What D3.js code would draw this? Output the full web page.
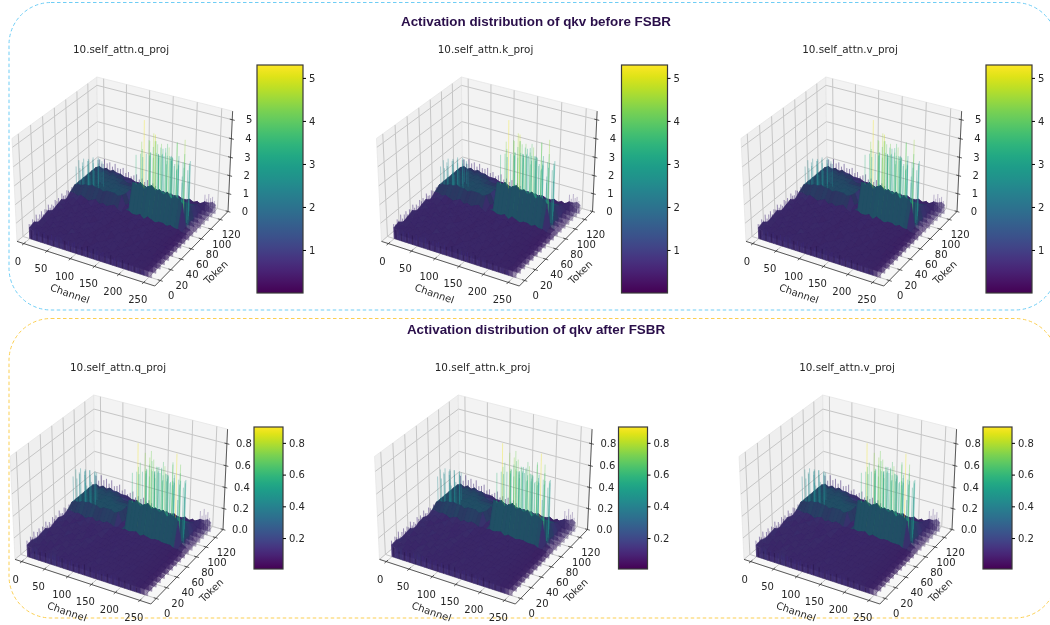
<!DOCTYPE html>
<html>
<head>
<meta charset="utf-8">
<script src="https://cdn.jsdelivr.net/npm/d3@7"></script>
<style>
html, body { margin: 0; background: #fff; }
svg { display: block; filter: blur(0.35px); }
text { font-family: "DejaVu Sans", sans-serif; fill: #262626; }
</style>
</head>
<body>
<script>
//panel names and axis ticks
var panelTitles = ["10.self_attn.q_proj", "10.self_attn.k_proj", "10.self_attn.v_proj"];
var headings = ["Activation distribution of qkv before FSBR", "Activation distribution of qkv after FSBR"];
var axisLabels = ["Channel", "Token"];
var channelTicks = [0, 50, 100, 150, 200, 250];
var tokenTicks = [0, 20, 40, 60, 80, 100, 120];
var zTicksBefore = [0, 1, 2, 3, 4, 5];
var zTicksAfter = [0, 0.2, 0.4, 0.6, 0.8];
var barTicksBefore = [1, 2, 3, 4, 5];
var barTicksAfter = [0.2, 0.4, 0.6, 0.8];

//sampled grid of the surface
var channels = [0,8,16,24,32,40,48,56,64,72,80,88,96,104,112,120,128,136,144,152,160,168,176,184,192,200,208,216,224,232,240,248,255];
var tokens = [0,8,16,24,32,40,48,56,64,72,80,88,96,104,112,120,127];

//opacity of the thin far right columns, token<76 and token>=76
var fadeFront = [1,1,1,1,1,1,1,1,1,1,1,1,1,1,1,1,1,1,1,1,1,1,1,1,1,1,1,1,1,1,0.85,0.5,0.25];
var fadeBack = [1,1,1,1,1,1,1,1,1,1,1,1,1,1,1,1,1,1,1,1,1,1,1,1,1,1,1,1,1,0.7,0.45,0.4,0.3];

//activation before FSBR, one row per token
var surfaceBefore = [
[.6,.5,.7,.5,.6,.4,.6,.5,.7,.5,.4,.6,.5,.6,.4,.5,.6,.5,.7,.4,.5,.6,.4,.5,.6,.4,.5,.4,.5,.4,.4,.3,.2],
[.7,.6,.5,.6,.5,.7,.4,.6,.5,.6,.7,.4,.6,.5,.6,.4,.5,.7,.4,.6,.5,.4,.6,.5,.4,.5,.6,.4,.4,.5,.3,.3,.2],
[.5,.7,.6,.4,.7,.5,.6,.5,.4,.7,.5,.6,.4,.6,.5,.6,.4,.5,.6,.5,.7,.5,.4,.6,.5,.4,.5,.5,.4,.4,.4,.3,.2],
[.6,.5,.6,.7,.5,.6,.5,.7,.6,.4,.6,.5,.7,.5,.4,.5,.7,.4,.5,.6,.4,.6,.5,.4,.6,.5,.4,.5,.5,.3,.4,.3,.2],
[.7,.6,.4,.6,.6,.5,.7,.4,.6,.5,.6,.7,.5,.4,.6,.5,.5,.6,.4,.7,.5,.5,.6,.4,.5,.6,.4,.4,.5,.4,.3,.3,.2],
[.5,.6,.7,.5,.4,.7,.5,.6,.5,.7,.4,.5,.6,.6,.5,.4,.6,.5,.6,.4,.6,.4,.5,.6,.4,.5,.5,.4,.4,.4,.4,.2,.2],
[.6,.7,.5,.6,.7,.4,.6,.5,.7,.5,.6,.4,.5,.7,.4,.6,.4,.6,.5,.5,.4,.6,.5,.5,.6,.4,.5,.5,.4,.3,.3,.3,.2],
[.7,.5,.6,.5,.6,.7,.5,.6,.4,.6,.5,.7,.6,.5,.5,.4,.6,.5,.4,.7,.5,.4,.6,.5,.4,.5,.4,.5,.4,.4,.3,.2,.2],
[.5,.6,.7,.6,.4,.5,.7,.5,.6,.5,.7,.5,.4,.6,.6,.5,.5,.4,.6,.5,.6,.5,.4,.6,.5,.4,.5,.4,.5,.3,.4,.3,.2],
[.7,.7,.6,.7,.6,.5,.6,.7,.5,.6,.5,.6,.7,.5,.4,.6,.6,.5,.5,.6,.4,.6,.5,.4,.5,.5,.4,.5,.4,.4,.3,.3,.2],
[.9,1.0,1.0,1.1,1.1,1.2,1.1,1.1,1.0,1.1,1.1,1.1,1.0,1.1,.6,.5,2.0,1.9,2.1,1.8,2.0,2.1,1.9,2.0,1.8,2.0,1.7,1.9,1.8,1.6,.4,.3,.2],
[.9,1.0,1.0,1.1,1.1,1.0,1.1,1.1,1.1,1.0,1.1,1.1,1.0,1.0,.5,.6,1.7,1.6,1.7,1.5,1.6,1.7,1.5,1.6,1.5,1.6,1.5,1.4,1.5,1.4,.5,.3,.2],
[.9,1.0,1.0,1.0,1.1,1.0,1.0,1.1,1.0,1.1,1.0,1.0,1.0,1.0,.6,.5,1.3,1.4,1.2,1.4,1.3,1.2,1.4,1.2,1.3,1.1,1.3,1.2,1.1,1.1,.4,.4,.2],
[.9,1.0,1.0,1.0,1.0,1.0,1.0,1.0,1.0,.9,.9,.9,.9,.8,.5,.6,1.0,.9,1.1,1.0,.9,1.1,.9,1.0,.9,1.0,.9,.9,.9,.9,.5,.4,.3],
[.9,1.0,.9,1.0,1.0,.9,1.0,.9,.9,.9,.8,.8,.7,.7,.5,.5,.7,.7,.8,.6,.7,.7,.6,.7,.7,.6,.7,.6,.7,.7,.5,.5,.3],
[.9,.9,.8,.9,.8,.9,.8,.9,.7,.7,.7,.6,.6,.6,.4,.4,.5,.5,.6,.5,.5,.5,.6,.4,.5,.5,.5,.4,.5,.6,.6,.5,.4],
[.8,.7,.8,.7,.8,.7,.7,.6,.6,.6,.5,.5,.4,.4,.3,.3,.4,.3,.4,.3,.4,.3,.4,.3,.3,.4,.3,.4,.3,.5,.5,.6,.5]
];

//activation after FSBR, one row per token
var surfaceAfter = [
[.11,.09,.12,.1,.08,.11,.09,.12,.1,.09,.11,.08,.1,.09,.1,.08,.11,.09,.1,.08,.1,.09,.08,.1,.09,.08,.09,.08,.09,.07,.06,.05,.03],
[.12,.1,.09,.11,.1,.08,.12,.09,.11,.1,.08,.11,.09,.1,.08,.1,.09,.11,.08,.1,.09,.1,.08,.09,.1,.08,.08,.09,.07,.08,.06,.05,.03],
[.1,.12,.11,.08,.12,.09,.1,.11,.08,.12,.1,.09,.11,.08,.1,.09,.08,.1,.11,.09,.08,.1,.09,.08,.09,.1,.08,.07,.08,.07,.07,.05,.03],
[.11,.09,.1,.12,.09,.11,.08,.12,.1,.09,.11,.1,.08,.11,.09,.08,.11,.09,.08,.1,.09,.08,.1,.09,.08,.09,.08,.09,.08,.06,.06,.05,.03],
[.12,.11,.08,.1,.11,.09,.12,.08,.1,.11,.09,.12,.1,.09,.08,.1,.09,.1,.09,.11,.08,.09,.1,.08,.09,.08,.09,.08,.07,.07,.06,.04,.03],
[.09,.1,.12,.11,.08,.12,.1,.09,.12,.08,.1,.11,.09,.1,.09,.08,.1,.08,.11,.09,.1,.08,.09,.1,.08,.09,.08,.08,.08,.06,.07,.05,.03],
[.11,.12,.09,.1,.12,.08,.11,.1,.09,.12,.08,.1,.11,.09,.1,.09,.08,.11,.09,.08,.1,.09,.08,.09,.1,.08,.08,.09,.07,.07,.06,.05,.03],
[.12,.09,.11,.09,.1,.12,.09,.11,.1,.08,.11,.09,.12,.1,.08,.1,.11,.09,.08,.1,.09,.1,.09,.08,.09,.08,.09,.07,.08,.06,.06,.04,.03],
[.1,.11,.12,.1,.09,.1,.12,.09,.11,.1,.12,.08,.1,.11,.09,.08,.09,.1,.11,.08,.09,.1,.08,.1,.08,.09,.08,.08,.07,.07,.05,.05,.03],
[.12,.12,.11,.12,.11,.09,.11,.12,.09,.11,.1,.12,.11,.09,.1,.09,.1,.09,.1,.11,.08,.1,.09,.08,.09,.09,.08,.08,.08,.06,.06,.05,.03],
[.16,.18,.18,.2,.2,.21,.2,.2,.18,.2,.2,.2,.18,.2,.11,.1,.34,.32,.36,.31,.34,.36,.32,.34,.31,.34,.29,.32,.31,.28,.08,.06,.04],
[.16,.18,.18,.2,.2,.18,.2,.2,.2,.18,.2,.2,.18,.18,.1,.11,.29,.27,.29,.26,.27,.29,.26,.27,.26,.27,.26,.24,.26,.24,.09,.06,.04],
[.16,.18,.18,.18,.2,.18,.18,.2,.18,.2,.18,.18,.18,.18,.11,.1,.22,.24,.21,.24,.22,.21,.24,.21,.22,.19,.22,.21,.19,.19,.08,.07,.04],
[.16,.18,.18,.18,.18,.18,.18,.18,.18,.16,.16,.16,.16,.14,.1,.11,.17,.16,.19,.17,.16,.19,.16,.17,.16,.17,.16,.16,.16,.16,.09,.07,.05],
[.16,.18,.16,.18,.18,.16,.18,.16,.16,.16,.14,.14,.12,.12,.09,.09,.12,.12,.14,.1,.12,.12,.1,.12,.12,.1,.12,.1,.12,.12,.09,.09,.05],
[.16,.16,.14,.16,.14,.16,.14,.16,.12,.12,.12,.11,.1,.11,.07,.07,.09,.09,.1,.09,.09,.09,.1,.07,.09,.09,.09,.07,.09,.11,.11,.09,.07],
[.14,.12,.14,.12,.14,.12,.12,.11,.11,.11,.09,.09,.07,.07,.05,.05,.07,.05,.07,.05,.07,.05,.07,.05,.05,.07,.05,.07,.05,.09,.09,.11,.09]
];

//tall thin spikes: channel, token, value
var spikesBefore = [
[2,82,1.9],[1,88,2.1],[4,92,1.9],[2,96,2.0],[6,100,1.8],[3,104,1.8],[8,108,1.7],[4,112,1.7],[10,116,1.5],[6,120,1.5],[12,86,1.9],[14,94,1.8],[16,102,1.7],[18,110,1.5],[20,118,1.3],[8,84,1.8],[11,98,1.9],[22,88,1.6],[26,96,1.5],[30,84,1.6],[5,124,1.3],[12,122,1.3],
[130,84,3.4],[134,100,3.1],[138,92,5.1],[142,110,3.6],[146,80,4.3],[150,104,3.8],[154,88,4.2],[158,116,3.2],[162,96,3.9],[166,84,3.5],[170,108,3.7],[174,92,4.1],[178,100,3.3],[182,80,3.8],[186,112,3.8],[190,88,3.4],[194,104,4.0],[198,96,3.1],[202,84,3.6],[206,108,3.4],[210,92,3.2],[214,100,4.4],[218,80,3.3],[222,88,2.8],
[136,112,3.2],[148,120,3.0],[160,90,4.6],[172,82,4.8],[184,118,2.9],[196,86,4.2],[208,118,2.8],[220,104,3.1],[144,96,4.0],[156,108,3.4],[168,118,2.8],
[131,96,3.0],[135,88,3.4],[139,104,3.1],[143,84,3.8],[147,112,2.9],[151,92,3.5],[155,100,3.3],[159,84,3.6],[163,108,3.0],[167,94,3.4],[171,116,2.8],[175,86,3.5],[179,104,3.2],[183,92,3.7],[187,100,3.1],[191,110,2.9],[195,82,3.4],[199,90,3.6],[203,112,2.8],[207,86,3.3],[211,100,3.2],[215,110,2.8],[219,94,3.1],[223,98,2.9],[133,108,2.8],[141,118,2.7],[153,114,2.9],[165,102,3.2],[177,112,2.9],[189,96,3.4],[201,100,3.0],[213,86,3.2],[226,84,2.6],[228,96,2.4]
];
var spikesAfter = [
[2,82,.4],[1,88,.44],[4,92,.4],[2,96,.42],[6,100,.38],[3,104,.38],[8,108,.36],[4,112,.34],[10,116,.31],[6,120,.3],[12,86,.42],[14,94,.38],[16,102,.35],[18,110,.32],[8,84,.38],[11,98,.4],[22,88,.34],[26,96,.32],[30,84,.34],[5,124,.27],
[130,84,.58],[134,100,.53],[138,92,.65],[142,110,.69],[146,80,.88],[150,104,.63],[154,88,.61],[158,116,.53],[162,96,.69],[166,84,.59],[170,108,.63],[174,92,.65],[178,100,.55],[182,80,.61],[186,112,.63],[190,88,.57],[194,104,.65],[198,96,.53],[202,84,.59],[206,108,.57],[210,92,.55],[214,100,.69],[218,80,.63],[222,84,.86],
[136,112,.55],[148,120,.51],[160,90,.73],[172,82,.67],[184,118,.49],[196,86,.71],[208,118,.47],[220,104,.53],[144,96,.73],[156,108,.57],
[131,96,.52],[135,88,.58],[139,104,.54],[143,84,.65],[147,112,.5],[151,92,.61],[155,100,.56],[159,84,.63],[163,108,.52],[167,94,.6],[171,116,.48],[175,86,.61],[179,104,.55],[183,92,.64],[187,100,.53],[191,110,.5],[195,82,.59],[199,90,.62],[203,112,.48],[207,86,.57],[211,100,.55],[215,110,.48],[219,94,.54],[223,98,.5],[133,108,.48],[141,118,.46],[153,114,.5],[165,102,.55],[177,112,.49],[189,96,.59],[201,100,.52],[213,86,.56],[226,84,.45],[228,96,.42]
];

//fine stems along the left side, channel 0, one per leftEdgeTokens entry
var leftEdgeTokens = [0,3,6,9,12,15,18,21,24,27,30,33,36,39,42,45,48,51,54,57,60,63,66,69,72,75,78];
var leftEdgeBefore = [.8,.7,.9,.75,1,.7,.85,.95,.7,.9,.8,1,.75,.85,.7,.95,.8,.9,.7,1,.8,.75,.95,.85,.7,.9,.8];
var leftEdgeAfter = [.15,.12,.16,.14,.18,.12,.15,.17,.13,.16,.14,.18,.13,.15,.12,.17,.14,.16,.13,.18,.14,.13,.17,.15,.12,.16,.14];

//fine stems along the back side, token 127, one per backEdgeChannels entry
var backEdgeChannels = [0,6,12,18,24,30,36,42,48,54,60,66,72,78,84,90,96,102,108,114,120,126,232,236,240,244,248,252];
var backEdgeBefore = [1.2,1.0,1.3,1.1,1.2,1.0,1.2,1.0,1.0,1.1,.85,.95,.75,.85,.95,.7,.8,.65,.8,.6,.7,.6,.9,.7,1.0,.8,.9,.7];
var backEdgeAfter = [.22,.18,.24,.2,.22,.18,.22,.17,.18,.2,.15,.17,.13,.15,.17,.12,.14,.12,.14,.11,.13,.11,.17,.13,.2,.15,.18,.13];

//fine streaks on the front wall, token 0, one per frontEdgeChannels entry
var frontEdgeChannels = [4,8,12,16,20,24,28,32,36,40,44,48,52,56,60,64,68,72,76,80,84,88,92,96,100,104,108,112,116,120,124,128,132,136,140,144,148,152,156,160,164,168,172,176,180,184,188,192,196,200,204,208,212,216,220,224,228,232,236,240];
var frontEdgeBefore = [.5,.3,.6,.4,.55,.3,.5,.6,.35,.5,.4,.6,.3,.55,.45,.3,.6,.4,.5,.35,.55,.3,.5,.6,.4,.3,.55,.45,.35,.5,.6,.3,.4,.55,.35,.5,.3,.45,.55,.35,.4,.3,.5,.35,.45,.3,.4,.3,.45,.35,.3,.4,.25,.35,.3,.25,.3,.25,.2,.2];
var frontEdgeAfter = [.09,.05,.1,.07,.09,.05,.08,.1,.06,.09,.07,.1,.05,.09,.08,.05,.1,.07,.09,.06,.09,.05,.08,.1,.07,.05,.09,.08,.06,.09,.1,.05,.07,.09,.06,.08,.05,.08,.09,.06,.07,.05,.08,.06,.08,.05,.07,.05,.08,.06,.05,.07,.04,.06,.05,.04,.05,.04,.03,.03];

//layout of each row of panels
var panelOffsets = [0, 364.5, 729];
var rows = [
  {heading: headings[0], headY: 26, headColor: "#2a0f4a", titleX: 121, titleY: 53,
   surface: surfaceBefore, spikes: spikesBefore, leftEdge: leftEdgeBefore, backEdge: backEdgeBefore, frontEdge: frontEdgeBefore,
   zMax: 5.45, zTicks: zTicksBefore, zFormat: d3.format("d"), barDomain: [0.0, 5.3], barTicks: barTicksBefore, barFormat: d3.format("d"),
   left: 17, right: 228, bottom: 286, top: 77,
   bar: {x: 257, w: 46, y0: 293, y1: 65},
   labelZ: 17},
  {heading: headings[1], headY: 334, headColor: "#2a0f4a", titleX: 118, titleY: 371,
   surface: surfaceAfter, spikes: spikesAfter, leftEdge: leftEdgeAfter, backEdge: backEdgeAfter, frontEdge: frontEdgeAfter,
   zMax: 0.93, zTicks: zTicksAfter, zFormat: d3.format(".1f"), barDomain: [0.005, 0.9], barTicks: barTicksAfter, barFormat: d3.format(".1f"),
   left: 15, right: 223, bottom: 604, top: 395,
   bar: {x: 254, w: 29, y0: 569, y1: 427},
   labelZ: 17}
];

var width = 1050, height = 625;
var xLim = [-15, 272], yLim = [-10, 137];

var svg = d3.select("body").append("svg")
    .attr("width", width)
    .attr("height", height);

//viridis gradient for the colorbars
var grad = svg.append("defs").append("linearGradient")
    .attr("id", "viridis")
    .attr("x1", 0).attr("y1", 1).attr("x2", 0).attr("y2", 0);
grad.selectAll("stop").data(d3.range(0, 1.01, 0.05)).join("stop")
    .attr("offset", function(d){ return d; })
    .attr("stop-color", function(d){ return d3.interpolateViridis(d); });

//the two rounded dashed frames
var frames = [{y: 2.5, h: 307.5, c: "#6fcdf5"}, {y: 318.5, h: 299.5, c: "#fbcf52"}];
svg.selectAll(".frame").data(frames).join("rect")
    .attr("class", "frame")
    .attr("x", 9).attr("y", function(d){ return d.y; })
    .attr("width", 1048).attr("height", function(d){ return d.h; })
    .attr("rx", 42).attr("ry", 42)
    .attr("fill", "none")
    .attr("stroke", function(d){ return d.c; })
    .attr("stroke-width", 1)
    .attr("stroke-dasharray", "3.5,2.5");

//matplotlib style view, elev 30 azim -60
function makeProjection(zMax){
    var box = [1.1905, 1.1905, 0.8929];
    var e = 30 * Math.PI / 180, a = -60 * Math.PI / 180, dist = 10;
    var R = box.map(function(b){ return b / 2; });
    var w = [Math.cos(e) * Math.cos(a), Math.cos(e) * Math.sin(a), Math.sin(e)];
    var E = [R[0] + dist * w[0], R[1] + dist * w[1], R[2] + dist * w[2]];
    var n = Math.hypot(w[1], w[0]);
    var u = [-w[1] / n, w[0] / n, 0];
    var v = [w[1] * u[2] - w[2] * u[1], w[2] * u[0] - w[0] * u[2], w[0] * u[1] - w[1] * u[0]];
    var sx = d3.scaleLinear().domain(xLim).range([0, box[0]]);
    var sy = d3.scaleLinear().domain(yLim).range([0, box[1]]);
    var sz = d3.scaleLinear().domain([0, zMax]).range([0, box[2]]);
    function dot(p, q){ return p[0] * q[0] + p[1] * q[1] + p[2] * q[2]; }
    return function(x, y, z){
        var p = [sx(x) - E[0], sy(y) - E[1], sz(z) - E[2]];
        var d = -dot(p, w);
        return [dot(p, u) / d, dot(p, v) / d];
    };
}

var toneScale = d3.scaleLinear()
    .domain([0, 0.11, 0.14, 0.18, 0.21, 0.4, 1])
    .range([0.08, 0.14, 0.18, 0.3, 0.35, 0.44, 0.95])
    .clamp(true);

function drawPanel(row, panelIndex){
    var dx = panelOffsets[panelIndex];
    var zMax = row.zMax;
    var project = makeProjection(zMax);

    //screen scales fitted to the corners of the 3d box
    var px = d3.scaleLinear()
        .domain([project(xLim[0], yLim[0], 0)[0], project(xLim[1], yLim[1], 0)[0]])
        .range([row.left + dx, row.right + dx]);
    var py = d3.scaleLinear()
        .domain([project(xLim[1], yLim[0], 0)[1], project(xLim[0], yLim[1], zMax)[1]])
        .range([row.bottom, row.top]);
    function pt(x, y, z){
        var p = project(x, y, z);
        return [px(p[0]), py(p[1])];
    }
    var line = d3.line();
    var g = svg.append("g").attr("class", "panel");

    //panes
    var panes = [
        {c: "#efefef", p: [[xLim[0], yLim[0], 0], [xLim[0], yLim[1], 0], [xLim[0], yLim[1], zMax], [xLim[0], yLim[0], zMax]]},
        {c: "#f3f3f3", p: [[xLim[0], yLim[1], 0], [xLim[1], yLim[1], 0], [xLim[1], yLim[1], zMax], [xLim[0], yLim[1], zMax]]},
        {c: "#f7f7f7", p: [[xLim[0], yLim[0], 0], [xLim[1], yLim[0], 0], [xLim[1], yLim[1], 0], [xLim[0], yLim[1], 0]]}
    ];
    g.selectAll(".pane").data(panes).join("path")
        .attr("class", "pane")
        .attr("d", function(d){ return line(d.p.map(function(q){ return pt(q[0], q[1], q[2]); })) + "Z"; })
        .attr("fill", function(d){ return d.c; })
        .attr("stroke", "#e4e4e4")
        .attr("stroke-width", 0.7);

    //gridlines on floor and walls
    var grid = [];
    channelTicks.forEach(function(t){ grid.push([[t, yLim[0], 0], [t, yLim[1], 0], [t, yLim[1], zMax]]); });
    tokenTicks.forEach(function(t){ grid.push([[xLim[1], t, 0], [xLim[0], t, 0], [xLim[0], t, zMax]]); });
    row.zTicks.forEach(function(t){ grid.push([[xLim[0], yLim[0], t], [xLim[0], yLim[1], t], [xLim[1], yLim[1], t]]); });
    g.selectAll(".grid").data(grid).join("path")
        .attr("class", "grid")
        .attr("d", function(d){ return line(d.map(function(q){ return pt(q[0], q[1], q[2]); })); })
        .attr("fill", "none")
        .attr("stroke", "#c6c6c6")
        .attr("stroke-width", 1);

    //axis lines and tick marks
    var axes = [
        [[xLim[0], yLim[0], 0], [xLim[1], yLim[0], 0]],
        [[xLim[1], yLim[0], 0], [xLim[1], yLim[1], 0]],
        [[xLim[1], yLim[1], 0], [xLim[1], yLim[1], zMax]]
    ];
    channelTicks.forEach(function(t){ axes.push([[t, yLim[0] - 3, 0], [t, yLim[0] + 3, 0]]); });
    tokenTicks.forEach(function(t){ axes.push([[xLim[1] + 5, t, 0], [xLim[1] - 5, t, 0]]); });
    row.zTicks.forEach(function(t){ axes.push([[xLim[1] + 5, yLim[1], t], [xLim[1] - 5, yLim[1], t]]); });
    g.selectAll(".axis").data(axes).join("path")
        .attr("class", "axis")
        .attr("d", function(d){ return line(d.map(function(q){ return pt(q[0], q[1], q[2]); })); })
        .attr("fill", "none")
        .attr("stroke", "#333")
        .attr("stroke-width", 0.8);

    //surface quads, front curtains and stems, all sorted from the back to the front
    var marks = [];
    var zBar = row.barDomain[1];
    function cellColor(v){
        var frac = v / zBar;
        return d3.color(d3.interpolateViridis(toneScale(frac))).darker(frac > 0.15 ? 0.95 : 0.55).formatHex();
    }
    tokens.forEach(function(tok, j){
        var vals = row.surface[j];
        var fade = tok < 76 ? fadeFront : fadeBack;
        d3.range(channels.length - 1).forEach(function(i){
            var mean = (vals[i] + vals[i + 1]) / 2;
            //top of the cell towards the next token row
            if (j < tokens.length - 1) {
                var next = row.surface[j + 1];
                var topColor = cellColor((vals[i] + vals[i + 1] + next[i] + next[i + 1]) / 4);
                marks.push({
                    token: tok + 0.2,
                    d: line([pt(channels[i], tok, vals[i]), pt(channels[i + 1], tok, vals[i + 1]), pt(channels[i + 1], tokens[j + 1], next[i + 1]), pt(channels[i], tokens[j + 1], next[i])]) + "Z",
                    fill: topColor,
                    stroke: topColor,
                    op: fade[i],
                    sw: 0.5
                });
            }
            //wall from the floor up to this row
            var wallColor = cellColor(mean);
            marks.push({
                token: tok,
                d: line([pt(channels[i], tok, 0), pt(channels[i], tok, vals[i]), pt(channels[i + 1], tok, vals[i + 1]), pt(channels[i + 1], tok, 0)]) + "Z",
                fill: wallColor,
                stroke: wallColor,
                op: fade[i] * 0.95,
                sw: 0.5
            });
        });
    });
    row.spikes.forEach(function(s){
        var t = s[2] / zBar;
        marks.push({
            //kept just in front of the first raised row so they show over it
            token: 79,
            d: line([pt(s[0], s[1], 0), pt(s[0], s[1], s[2])]),
            fill: "none",
            stroke: d3.interpolateViridis(Math.max(0.47, Math.min(0.98, t * 1.02))),
            op: 0.36,
            sw: 1
        });
    });
    row.leftEdge.forEach(function(v, i){
        marks.push({token: leftEdgeTokens[i] + 0.5, d: line([pt(0, leftEdgeTokens[i], 0), pt(0, leftEdgeTokens[i], v)]), fill: "none", stroke: "#3a1f70", op: 0.5, sw: 1});
    });
    row.backEdge.forEach(function(v, i){
        marks.push({token: 128, d: line([pt(backEdgeChannels[i], 127, 0), pt(backEdgeChannels[i], 127, v)]), fill: "none", stroke: "#3a1f70", op: i > 21 ? 0.3 : 0.5, sw: 1});
    });
    row.frontEdge.forEach(function(v, i){
        marks.push({token: -1, d: line([pt(frontEdgeChannels[i], 0, 0), pt(frontEdgeChannels[i], 0, v)]), fill: "none", stroke: i % 3 == 0 ? "#241048" : "#3c2a7a", op: 0.55, sw: 0.9});
    });
    marks.sort(function(a, b){ return b.token - a.token; });
    g.selectAll(".mark").data(marks).join("path")
        .attr("class", "mark")
        .attr("d", function(d){ return d.d; })
        .attr("fill", function(d){ return d.fill; })
        .attr("stroke", function(d){ return d.stroke; })
        .attr("stroke-width", function(d){ return d.sw; })
        .attr("opacity", function(d){ return d.op; });

    //tick labels
    g.selectAll(".xlab").data(channelTicks).join("text")
        .attr("class", "xlab")
        .attr("x", function(d){ return pt(d, yLim[0], 0)[0] - 6; })
        .attr("y", function(d){ return pt(d, yLim[0], 0)[1] + 21; })
        .attr("text-anchor", "middle").attr("font-size", 10)
        .text(function(d){ return d; });
    g.selectAll(".ylab").data(tokenTicks).join("text")
        .attr("class", "ylab")
        .attr("x", function(d){ return pt(xLim[1], d, 0)[0] + 11; })
        .attr("y", function(d){ return pt(xLim[1], d, 0)[1] + 19; })
        .attr("text-anchor", "middle").attr("font-size", 10)
        .text(function(d){ return d; });
    g.selectAll(".zlab").data(row.zTicks).join("text")
        .attr("class", "zlab")
        .attr("x", function(d){ return pt(xLim[1], yLim[1], d)[0] + row.labelZ; })
        .attr("y", function(d){ return pt(xLim[1], yLim[1], d)[1] + 3.5; })
        .attr("text-anchor", "middle").attr("font-size", 10)
        .text(row.zFormat);

    //axis names
    var cMid = pt(128, yLim[0], 0), tMid = pt(xLim[1], 64, 0);
    g.append("text")
        .attr("transform", "translate(" + (cMid[0] - 15) + "," + (cMid[1] + 34) + ") rotate(19)")
        .attr("text-anchor", "middle").attr("font-size", 10)
        .text(axisLabels[0]);
    g.append("text")
        .attr("transform", "translate(" + (tMid[0] + 25) + "," + (tMid[1] + 28) + ") rotate(-44)")
        .attr("text-anchor", "middle").attr("font-size", 10)
        .text(axisLabels[1]);

    //panel title
    g.append("text")
        .attr("x", row.titleX + dx).attr("y", row.titleY)
        .attr("text-anchor", "middle").attr("font-size", 10.4)
        .text(panelTitles[panelIndex]);

    //colorbar
    var b = row.bar;
    var barScale = d3.scaleLinear().domain(row.barDomain).range([b.y0, b.y1]);
    g.append("rect")
        .attr("x", b.x + dx).attr("y", b.y1)
        .attr("width", b.w).attr("height", b.y0 - b.y1)
        .attr("fill", "url(#viridis)")
        .attr("stroke", "#3a3a3a")
        .attr("stroke-width", 1.2);
    var barAxis = g.append("g")
        .attr("transform", "translate(" + (b.x + b.w + dx) + ",0)")
        .call(d3.axisRight(barScale).tickValues(row.barTicks).tickFormat(row.barFormat).tickSize(3).tickPadding(3));
    barAxis.select(".domain").remove();
    barAxis.selectAll("text").attr("font-size", 10).style("font-family", '"DejaVu Sans", sans-serif');
}

rows.forEach(function(row){
    svg.append("text")
        .attr("x", 536).attr("y", row.headY)
        .attr("text-anchor", "middle")
        .attr("font-size", 13.4)
        .attr("font-weight", "bold")
        .style("font-family", '"Liberation Sans", sans-serif')
        .style("fill", row.headColor)
        .text(row.heading);
    panelOffsets.forEach(function(o, i){ drawPanel(row, i); });
});
</script>
</body>
</html>
